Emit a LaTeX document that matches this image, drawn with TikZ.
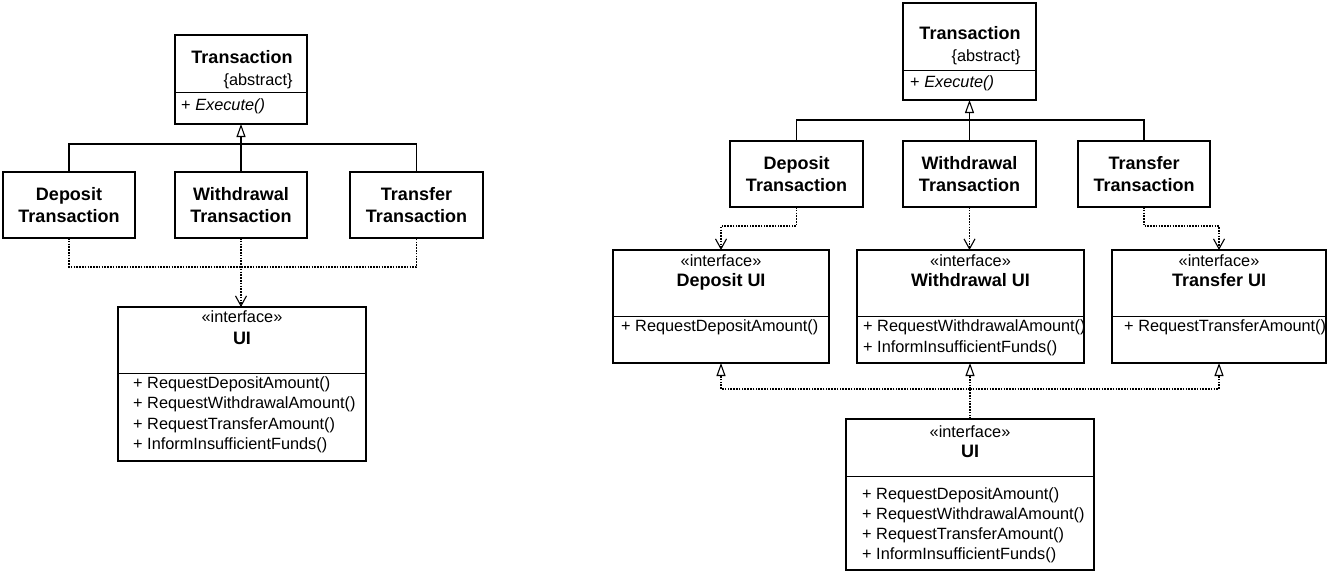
\documentclass[tikz,border=0pt]{standalone}
\usepackage{fontspec}
\setmainfont{Liberation Sans}
\usetikzlibrary{arrows.meta}
\newcommand\regfont{\fontsize{16.3}{20.3}\selectfont}
\newcommand\boldfont{\fontsize{18}{21.5}\selectfont\bfseries}

\begin{document}
\begin{tikzpicture}[x=1pt,y=-1pt,
  cls/.style={draw, line width=1.5pt, fill=white, inner sep=0pt, outer sep=0pt,
              font=\boldfont, align=center},
  divider/.style={line width=1pt},
  reg/.style={inner sep=0pt, font=\regfont},
  bld/.style={inner sep=0pt, font=\boldfont},
  solidline/.style={line width=1.5pt},
  dotline/.style={line width=1.1pt, dash pattern=on 1.6pt off 1.2pt},
  gen/.style={solidline, -{Triangle[fill=white, length=13pt, width=9pt, line width=1.1pt]}},
  dep/.style={dotline, -{Straight Barb[length=10pt, width=11pt, line width=1.1pt]}},
  real/.style={dotline, -{Triangle[fill=white, length=13pt, width=9pt, line width=1.1pt]}},
]
\useasboundingbox (0,0) rectangle (1329,574);

% ---------------- single UI interface ----------------
% abstract base class
\node[cls, minimum width=132, minimum height=89] (T1) at (241,79.5) {};
\draw[divider] (T1.west |- 0,92) -- (T1.east |- 0,92);
\node[bld, anchor=mid] (T1a) at (242,61) {Transaction};
\node[reg, anchor=mid east] (T1b) at (T1a.east |- 0,83) {\{abstract\}};
\node[reg, anchor=mid west] (T1c) at (181,108) {+ \textit{Execute()}};

% concrete transactions
\node[cls, minimum width=132, minimum height=66] (D1) at (69,205) {Deposit\\Transaction};
\node[cls, minimum width=132, minimum height=66] (W1) at (241,205) {Withdrawal\\Transaction};
\node[cls, minimum width=133, minimum height=66] (F1) at (416.5,205) {Transfer\\Transaction};

% UI interface
\node[cls, minimum width=248, minimum height=154] (U1) at (242,384) {};
\draw[divider] (U1.west |- 0,373) -- (U1.east |- 0,373);
\node[reg, anchor=mid] (U1s) at (242,320) {«interface»};
\node[bld, anchor=mid] (U1n) at (242,342) {UI};
\node[reg, anchor=mid west] (U1m1) at (133,386) {+ RequestDepositAmount()};
\node[reg, anchor=mid west] (U1m2) at (133,406) {+ RequestWithdrawalAmount()};
\node[reg, anchor=mid west] (U1m3) at (133,427) {+ RequestTransferAmount()};
\node[reg, anchor=mid west] (U1m4) at (133,447) {+ InformInsufficientFunds()};

% inheritance
\coordinate (j1) at (241,144);
\draw[solidline] (D1.north) |- (j1) -| (F1.north);
\draw[gen] (W1.north) -- (T1.south);

% dependencies on UI
\coordinate (k1) at (241,267);
\draw[dotline] (D1.south) |- (k1) -| (F1.south);
\draw[dep] (W1.south) -- (W1.south |- U1.north);

% ---------------- segregated interfaces ----------------
% abstract base class
\node[cls, minimum width=133, minimum height=97] (T2) at (969.5,51.5) {};
\draw[divider] (T2.west |- 0,70) -- (T2.east |- 0,70);
\node[bld, anchor=mid] (T2a) at (970,37) {Transaction};
\node[reg, anchor=mid east] (T2b) at (T2a.east |- 0,59) {\{abstract\}};
\node[reg, anchor=mid west] (T2c) at (910,85) {+ \textit{Execute()}};

% concrete transactions
\node[cls, minimum width=133, minimum height=66] (D2) at (796.5,174) {Deposit\\Transaction};
\node[cls, minimum width=133, minimum height=66] (W2) at (969.5,174) {Withdrawal\\Transaction};
\node[cls, minimum width=132, minimum height=66] (F2) at (1144,174) {Transfer\\Transaction};

% per-transaction interfaces
\node[cls, minimum width=216, minimum height=113] (DU) at (721,306.5) {};
\draw[divider] (DU.west |- 0,316) -- (DU.east |- 0,316);
\node[reg, anchor=mid] (DUs) at (721,264) {«interface»};
\node[bld, anchor=mid] (DUn) at (721,284) {Deposit UI};
\node[reg, anchor=mid west] (DUm1) at (621,329) {+ RequestDepositAmount()};

\node[cls, minimum width=227, minimum height=113] (WU) at (970.5,306.5) {};
\draw[divider] (WU.west |- 0,316) -- (WU.east |- 0,316);
\node[reg, anchor=mid] (WUs) at (970.5,264) {«interface»};
\node[bld, anchor=mid] (WUn) at (970.5,284) {Withdrawal UI};
\node[reg, anchor=mid west] (WUm1) at (863,329) {+ RequestWithdrawalAmount()};
\node[reg, anchor=mid west] (WUm2) at (863,350) {+ InformInsufficientFunds()};

\node[cls, minimum width=214, minimum height=113] (FU) at (1219,306.5) {};
\draw[divider] (FU.west |- 0,316) -- (FU.east |- 0,316);
\node[reg, anchor=mid] (FUs) at (1219,264) {«interface»};
\node[bld, anchor=mid] (FUn) at (1219,284) {Transfer UI};
\node[reg, anchor=mid west] (FUm1) at (1124,329) {+ RequestTransferAmount()};

% combined UI interface
\node[cls, minimum width=248, minimum height=151] (U2) at (970,494.5) {};
\draw[divider] (U2.west |- 0,476) -- (U2.east |- 0,476);
\node[reg, anchor=mid] (U2s) at (970,435) {«interface»};
\node[bld, anchor=mid] (U2n) at (970,455) {UI};
\node[reg, anchor=mid west] (U2m1) at (862,497) {+ RequestDepositAmount()};
\node[reg, anchor=mid west] (U2m2) at (862,517) {+ RequestWithdrawalAmount()};
\node[reg, anchor=mid west] (U2m3) at (862,537) {+ RequestTransferAmount()};
\node[reg, anchor=mid west] (U2m4) at (862,557) {+ InformInsufficientFunds()};

% inheritance
\coordinate (j2) at (969.5,120);
\draw[solidline] (D2.north) |- (j2) -| (F2.north);
\draw[gen] (W2.north) -- (T2.south);

% dependencies on the per-transaction interfaces
\coordinate (dd) at (796.5,226);
\coordinate (fd) at (1144,226);
\draw[dep] (D2.south) -- (dd) -| (DU.north);
\draw[dep] (W2.south) -- (W2.south |- WU.north);
\draw[dep] (F2.south) -- (fd) -| (FU.north);

% UI realizes each interface
\coordinate (rj) at (970,389);
\draw[dotline] (U2.north) -- (rj);
\draw[real] (rj) -| (DU.south);
\draw[real] (rj) -| (FU.south);
\draw[real] (rj) -- (rj |- WU.south);
\end{tikzpicture}
\end{document}
